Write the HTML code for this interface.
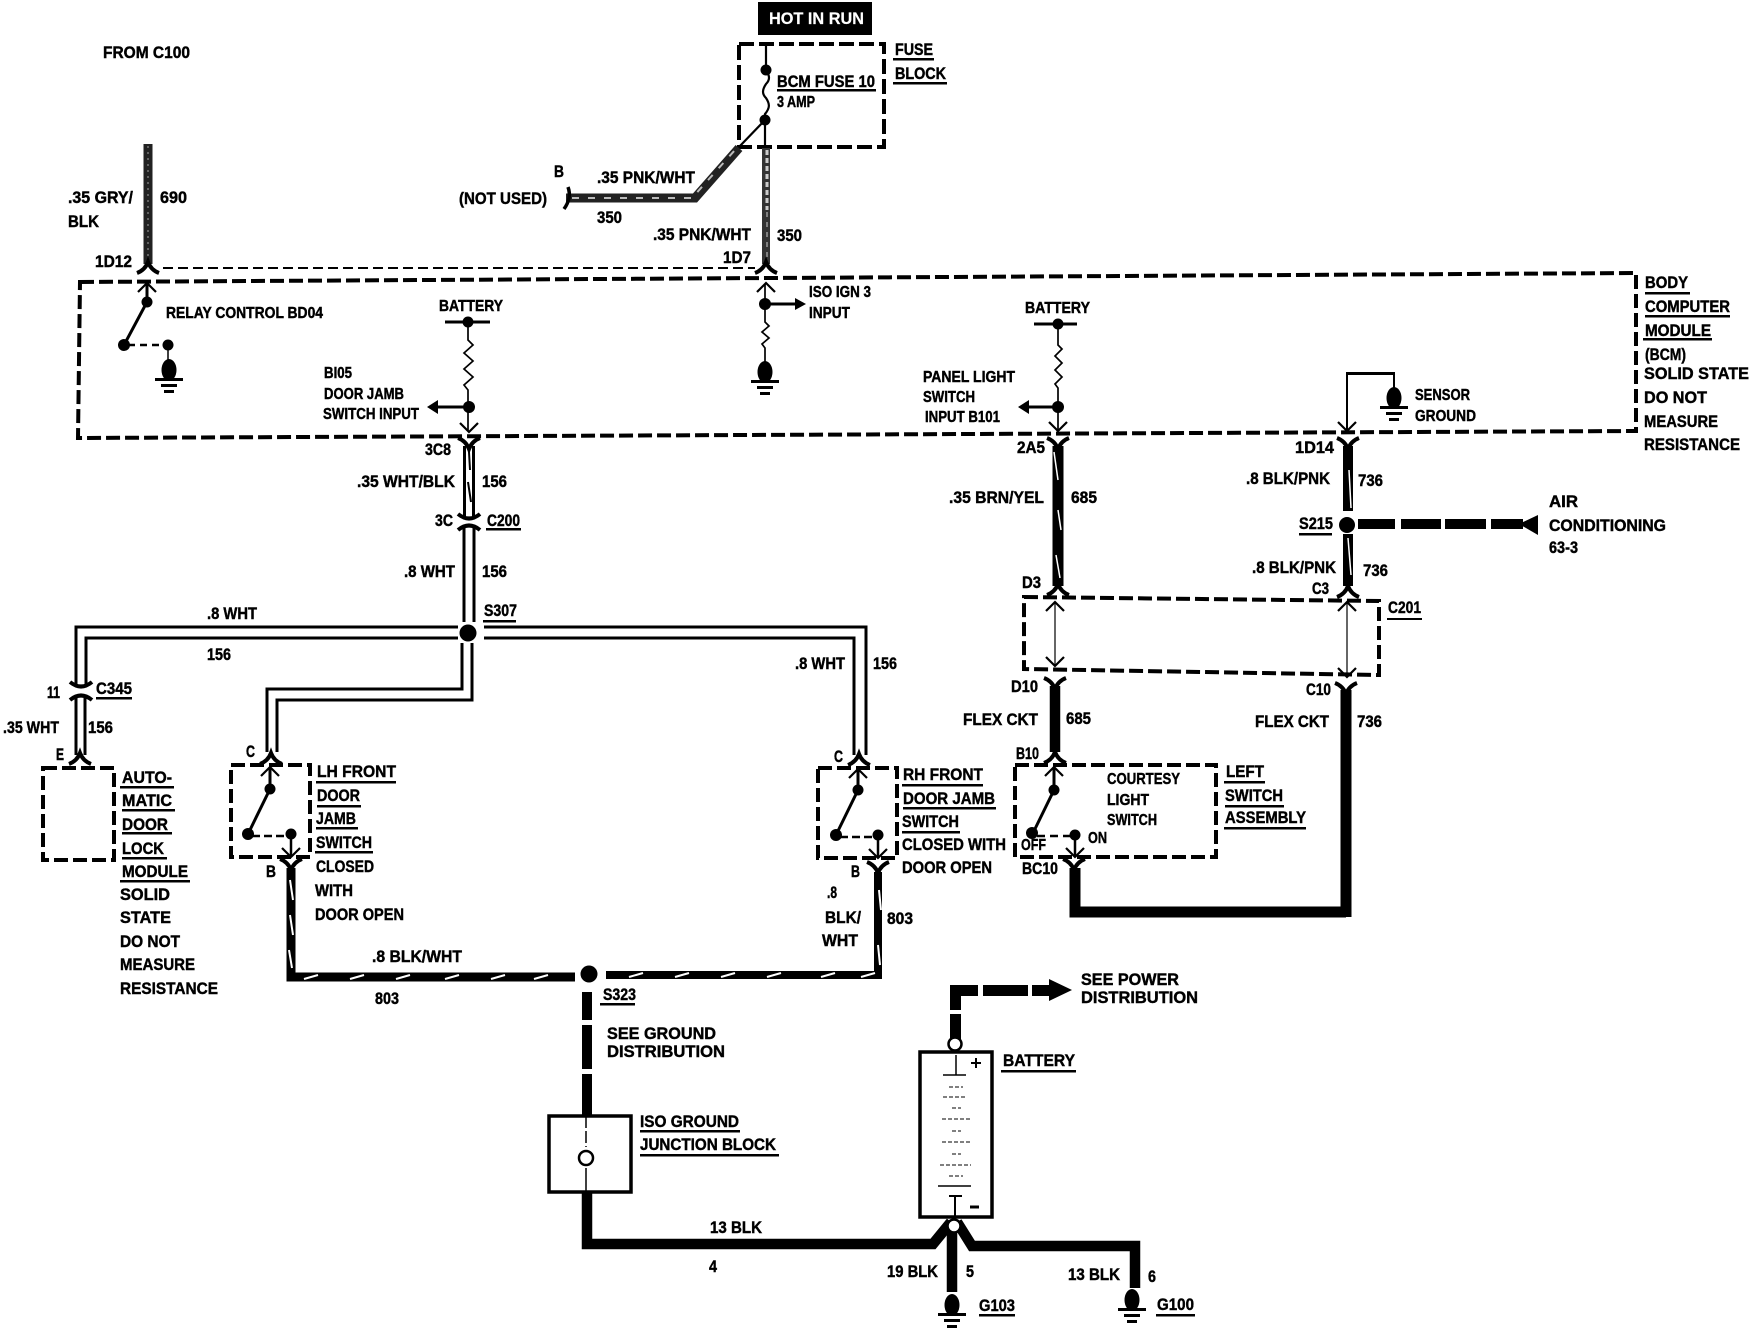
<!DOCTYPE html>
<html><head><meta charset="utf-8"><style>
html,body{margin:0;padding:0;background:#fff}
svg{display:block}
text{font-family:"Liberation Sans",sans-serif;font-weight:bold;font-size:17px;fill:#000;stroke:#000;stroke-width:.45px}
.s{font-size:16px}
</style></head><body>
<svg width="1750" height="1344" viewBox="0 0 1750 1344" xmlns="http://www.w3.org/2000/svg">
<defs>
<path id="cap" d="M-11,5 Q-3,2 0,-6 Q3,2 11,5" fill="none" stroke="#000" stroke-width="4"/>
<path id="cup" d="M-11,-5 Q-3,-2 0,6 Q3,-2 11,-5" fill="none" stroke="#000" stroke-width="4"/>
<g id="gnd"><ellipse cx="0" cy="0" rx="7.500" ry="11" fill="#000"/><rect x="-14" y="8" width="28" height="3"/><rect x="-8" y="14" width="16" height="3"/><rect x="-5" y="20" width="10" height="3"/></g>
<path id="au" d="M-9,9 L0,0 L9,9" fill="none" stroke="#000" stroke-width="2.200"/>
<path id="ad" d="M-9,-9 L0,0 L9,-9" fill="none" stroke="#000" stroke-width="2.200"/>
</defs>

<!-- Header -->
<rect x="758" y="2" width="114" height="33" fill="#000"/>
<text x="769" y="24" textLength="95" lengthAdjust="spacingAndGlyphs" style="fill:#fff;stroke:#fff;stroke-width:.2px">HOT IN RUN</text>
<text x="103" y="58" textLength="87" lengthAdjust="spacingAndGlyphs">FROM C100</text>

<!-- Fuse block -->
<rect x="739" y="44" width="145" height="103" fill="none" stroke="#000" stroke-width="4" stroke-dasharray="15 5"/>
<path d="M766,44V70 C770,76 770,80 766,84 C762,90 762,94 766,98 C770,104 770,108 765,114 V147 M765,120 L739,147" fill="none" stroke="#000" stroke-width="2.200"/>
<circle cx="766" cy="70" r="5.500"/><circle cx="765" cy="120" r="5.500"/>
<text x="777" y="87" textLength="98" lengthAdjust="spacingAndGlyphs">BCM FUSE 10</text>
<rect x="777" y="89" width="99" height="2.500"/>
<text class="s" x="777" y="107" textLength="38" lengthAdjust="spacingAndGlyphs">3 AMP</text>
<text x="895" y="55" textLength="38" lengthAdjust="spacingAndGlyphs">FUSE</text><rect x="893" y="58" width="41" height="2.500"/>
<text x="895" y="79" textLength="51" lengthAdjust="spacingAndGlyphs">BLOCK</text><rect x="893" y="82" width="54" height="2.500"/>

<!-- wire 350 to B -->
<path d="M566,198 H695 L739,148" fill="none" stroke="#222" stroke-width="9"/>
<path d="M572,198 H692 L735,150" fill="none" stroke="#bbb" stroke-width="2" stroke-dasharray="7 9"/>
<path d="M568,187 Q572,198 564,209" fill="none" stroke="#000" stroke-width="3.500"/>
<text x="554" y="177" textLength="10" lengthAdjust="spacingAndGlyphs">B</text>
<text x="459" y="204" textLength="88" lengthAdjust="spacingAndGlyphs">(NOT USED)</text>
<text x="597" y="183" textLength="98" lengthAdjust="spacingAndGlyphs">.35 PNK/WHT</text>
<text x="597" y="223" textLength="25" lengthAdjust="spacingAndGlyphs">350</text>

<!-- wire 350 vertical -->
<path d="M766,148V264" stroke="#333" stroke-width="8" fill="none"/>
<path d="M767,150V210" stroke="#ccc" stroke-width="3" stroke-dasharray="5 3" fill="none"/>
<path d="M767,212V262" stroke="#999" stroke-width="1.500" stroke-dasharray="5 5" fill="none"/>
<text x="653" y="240" textLength="98" lengthAdjust="spacingAndGlyphs">.35 PNK/WHT</text>
<text x="777" y="241" textLength="25" lengthAdjust="spacingAndGlyphs">350</text>
<text x="723" y="263" textLength="28" lengthAdjust="spacingAndGlyphs">1D7</text>
<use href="#cap" x="766" y="268"/>

<!-- wire 690 -->
<path d="M148,144V264" stroke="#222" stroke-width="9" fill="none"/>
<path d="M148,146V262" stroke="#777" stroke-width="1.500" stroke-dasharray="2 4" fill="none"/>
<text x="68" y="203" textLength="65" lengthAdjust="spacingAndGlyphs">.35 GRY/</text>
<text x="160" y="203" textLength="27" lengthAdjust="spacingAndGlyphs">690</text>
<text x="68" y="227" textLength="31" lengthAdjust="spacingAndGlyphs">BLK</text>
<text x="95" y="267" textLength="37" lengthAdjust="spacingAndGlyphs">1D12</text>
<use href="#cap" x="148" y="268"/>
<path d="M163,268H755" stroke="#000" stroke-width="2" stroke-dasharray="10 5" fill="none"/>

<!-- BCM box -->
<path d="M80,282 L1636,273 V431 L78,438 Z" fill="none" stroke="#000" stroke-width="4" stroke-dasharray="14 5"/>
<text x="1645" y="288" textLength="43" lengthAdjust="spacingAndGlyphs">BODY</text><rect x="1645" y="292" width="45" height="2.500"/>
<text x="1645" y="312" textLength="85" lengthAdjust="spacingAndGlyphs">COMPUTER</text><rect x="1645" y="315" width="85" height="2.500"/>
<text x="1645" y="336" textLength="66" lengthAdjust="spacingAndGlyphs">MODULE</text><rect x="1643" y="338" width="69" height="2.500"/>
<text x="1645" y="360" textLength="41" lengthAdjust="spacingAndGlyphs">(BCM)</text>
<text x="1644" y="379" textLength="105" lengthAdjust="spacingAndGlyphs">SOLID STATE</text>
<text x="1644" y="403" textLength="63" lengthAdjust="spacingAndGlyphs">DO NOT</text>
<text x="1644" y="427" textLength="74" lengthAdjust="spacingAndGlyphs">MEASURE</text>
<text x="1644" y="450" textLength="96" lengthAdjust="spacingAndGlyphs">RESISTANCE</text>

<!-- relay switch -->
<path d="M147,284V302 L124,345" stroke="#000" stroke-width="3" fill="none"/>
<use href="#au" x="147" y="283"/>
<circle cx="147" cy="302" r="5.500"/><circle cx="124" cy="345" r="6"/>
<path d="M128,345H164" stroke="#000" stroke-width="2.500" stroke-dasharray="7 5" fill="none"/>
<circle cx="168" cy="345" r="5.500"/>
<path d="M168,345V362" stroke="#000" stroke-width="1.500"/>
<use href="#gnd" x="169" y="370"/>
<text class="s" x="166" y="318" textLength="157" lengthAdjust="spacingAndGlyphs">RELAY CONTROL BD04</text>

<!-- battery 1 -->
<text class="s" x="439" y="311" textLength="64" lengthAdjust="spacingAndGlyphs">BATTERY</text>
<rect x="445" y="320.500" width="45" height="3"/><circle cx="468" cy="322" r="5.500"/>
<path d="M468,322V340 l5,5 l-9,8 l9,8 l-9,8 l9,8 l-9,8 l4,5 V431" fill="none" stroke="#000" stroke-width="1.700"/>
<circle cx="469" cy="407" r="6"/>
<path d="M469,407H434" stroke="#000" stroke-width="3"/><path d="M438,400L427,407L438,414Z"/>
<use href="#ad" x="469" y="432"/>
<text class="s" x="324" y="378" textLength="28" lengthAdjust="spacingAndGlyphs">BI05</text>
<text class="s" x="324" y="399" textLength="80" lengthAdjust="spacingAndGlyphs">DOOR JAMB</text>
<text class="s" x="323" y="419" textLength="96" lengthAdjust="spacingAndGlyphs">SWITCH INPUT</text>

<!-- ISO IGN -->
<path d="M765,284V322 l4,4 l-7,6 l7,6 l-7,6 l3,4 V366" fill="none" stroke="#000" stroke-width="1.700"/>
<use href="#au" x="766" y="283"/>
<circle cx="765" cy="304" r="6"/>
<path d="M765,304H798" stroke="#000" stroke-width="3"/><path d="M795,298L806,304L795,310Z"/>
<use href="#gnd" x="765" y="372"/>
<text class="s" x="809" y="297" textLength="62" lengthAdjust="spacingAndGlyphs">ISO IGN 3</text>
<text class="s" x="809" y="318" textLength="41" lengthAdjust="spacingAndGlyphs">INPUT</text>

<!-- battery 2 -->
<text class="s" x="1025" y="313" textLength="65" lengthAdjust="spacingAndGlyphs">BATTERY</text>
<rect x="1034" y="322.500" width="43" height="3"/><circle cx="1058" cy="324" r="5.500"/>
<path d="M1058,324V345 l4,4 l-7,7 l7,7 l-7,7 l7,7 l-7,7 l3,4 V431" fill="none" stroke="#000" stroke-width="1.700"/>
<circle cx="1058" cy="407" r="6"/>
<path d="M1058,407H1025" stroke="#000" stroke-width="3"/><path d="M1029,400L1018,407L1029,414Z"/>
<use href="#ad" x="1058" y="431"/>
<text class="s" x="923" y="382" textLength="92" lengthAdjust="spacingAndGlyphs">PANEL LIGHT</text>
<text class="s" x="923" y="402" textLength="52" lengthAdjust="spacingAndGlyphs">SWITCH</text>
<text class="s" x="925" y="422" textLength="75" lengthAdjust="spacingAndGlyphs">INPUT B101</text>

<!-- sensor ground -->
<path d="M1347,431V373H1394V392" fill="none" stroke="#000" stroke-width="2"/>
<rect x="1346" y="372" width="49" height="3"/>
<use href="#ad" x="1347" y="431"/>
<use href="#gnd" x="1394" y="398"/>
<text class="s" x="1415" y="400" textLength="55" lengthAdjust="spacingAndGlyphs">SENSOR</text>
<text class="s" x="1415" y="421" textLength="61" lengthAdjust="spacingAndGlyphs">GROUND</text>

<!-- 156 3C8-3C -->
<use href="#cup" x="469" y="443"/>
<path d="M464.500,446V516M473.500,446V516" stroke="#000" stroke-width="3" fill="none"/>
<path d="M469,452 L470,470 M468,482 L471,502" stroke="#000" stroke-width="2" fill="none"/>
<path d="M458,514 Q469,523 480,514 M458,530 Q469,521 480,530" fill="none" stroke="#000" stroke-width="4"/>
<text x="425" y="455" textLength="26" lengthAdjust="spacingAndGlyphs">3C8</text>
<text x="357" y="487" textLength="98" lengthAdjust="spacingAndGlyphs">.35 WHT/BLK</text>
<text x="482" y="487" textLength="25" lengthAdjust="spacingAndGlyphs">156</text>
<text x="435" y="526" textLength="18" lengthAdjust="spacingAndGlyphs">3C</text>
<text x="487" y="526" textLength="33" lengthAdjust="spacingAndGlyphs">C200</text><rect x="486" y="528" width="35" height="2.500"/>
<path d="M464,527V622M474,527V622" stroke="#000" stroke-width="3" fill="none"/>
<text x="404" y="577" textLength="51" lengthAdjust="spacingAndGlyphs">.8 WHT</text>
<text x="482" y="577" textLength="25" lengthAdjust="spacingAndGlyphs">156</text>

<!-- S307 -->
<text x="484" y="616" textLength="33" lengthAdjust="spacingAndGlyphs">S307</text><rect x="483" y="620" width="33" height="2.500"/>
<circle cx="468" cy="633" r="8.500"/>
<path d="M458,627H76V685M458,638H86V685" fill="none" stroke="#000" stroke-width="3"/>
<path d="M484,627H866V755M484,638H854V755" fill="none" stroke="#000" stroke-width="3"/>
<path d="M462,643V689H267V752M472,643V700H277V752" fill="none" stroke="#000" stroke-width="3"/>
<text x="207" y="619" textLength="50" lengthAdjust="spacingAndGlyphs">.8 WHT</text>
<text x="207" y="660" textLength="24" lengthAdjust="spacingAndGlyphs">156</text>
<text x="795" y="669" textLength="50" lengthAdjust="spacingAndGlyphs">.8 WHT</text>
<text x="873" y="669" textLength="24" lengthAdjust="spacingAndGlyphs">156</text>

<!-- C345 -->
<path d="M70,682 Q81,691 92,682 M70,700 Q81,691 92,700" fill="none" stroke="#000" stroke-width="4"/>
<text x="47" y="698" textLength="13" lengthAdjust="spacingAndGlyphs">11</text>
<text x="96" y="694" textLength="36" lengthAdjust="spacingAndGlyphs">C345</text><rect x="96" y="697" width="36" height="2.500"/>
<path d="M76,697V755M85,697V755" stroke="#000" stroke-width="3" fill="none"/>
<text x="3" y="733" textLength="56" lengthAdjust="spacingAndGlyphs">.35 WHT</text>
<text x="88" y="733" textLength="25" lengthAdjust="spacingAndGlyphs">156</text>
<text x="56" y="760" textLength="8" lengthAdjust="spacingAndGlyphs">E</text>
<use href="#cap" x="80" y="759"/>

<!-- Auto door lock -->
<rect x="43" y="768" width="71" height="92" fill="none" stroke="#000" stroke-width="4" stroke-dasharray="14 5"/>
<text x="122" y="783" textLength="50" lengthAdjust="spacingAndGlyphs">AUTO-</text><rect x="120" y="786" width="54" height="2.500"/>
<text x="122" y="806" textLength="50" lengthAdjust="spacingAndGlyphs">MATIC</text><rect x="122" y="809" width="53" height="2.500"/>
<text x="122" y="830" textLength="46" lengthAdjust="spacingAndGlyphs">DOOR</text><rect x="122" y="832" width="50" height="2.500"/>
<text x="122" y="854" textLength="42" lengthAdjust="spacingAndGlyphs">LOCK</text><rect x="122" y="857" width="45" height="2.500"/>
<text x="122" y="877" textLength="66" lengthAdjust="spacingAndGlyphs">MODULE</text><rect x="120" y="880" width="70" height="2.500"/>
<text x="120" y="900" textLength="50" lengthAdjust="spacingAndGlyphs">SOLID</text>
<text x="120" y="923" textLength="51" lengthAdjust="spacingAndGlyphs">STATE</text>
<text x="120" y="947" textLength="60" lengthAdjust="spacingAndGlyphs">DO NOT</text>
<text x="120" y="970" textLength="75" lengthAdjust="spacingAndGlyphs">MEASURE</text>
<text x="120" y="994" textLength="98" lengthAdjust="spacingAndGlyphs">RESISTANCE</text>

<!-- LH switch -->
<text x="246" y="757" textLength="9" lengthAdjust="spacingAndGlyphs">C</text>
<use href="#cap" x="271" y="759"/>
<rect x="231" y="765" width="79" height="92" fill="none" stroke="#000" stroke-width="4" stroke-dasharray="14 5"/>
<path d="M270,768V789 L248,834" stroke="#000" stroke-width="3" fill="none"/>
<use href="#au" x="270" y="767"/>
<circle cx="270" cy="789" r="5.500"/><circle cx="248" cy="834" r="6"/><circle cx="291" cy="834" r="5.500"/>
<path d="M252,836H287" stroke="#000" stroke-width="2.500" stroke-dasharray="8 4" fill="none"/>
<path d="M291,834V857" stroke="#000" stroke-width="2.500"/>
<use href="#ad" x="291" y="857"/>
<text x="266" y="877" textLength="10" lengthAdjust="spacingAndGlyphs">B</text>
<use href="#cup" x="291" y="864"/>
<text x="317" y="777" textLength="79" lengthAdjust="spacingAndGlyphs">LH FRONT</text><rect x="316" y="781" width="80" height="2.500"/>
<text x="317" y="801" textLength="43" lengthAdjust="spacingAndGlyphs">DOOR</text><rect x="317" y="805" width="44" height="2.500"/>
<text x="316" y="824" textLength="40" lengthAdjust="spacingAndGlyphs">JAMB</text><rect x="316" y="827" width="42" height="2.500"/>
<text x="316" y="848" textLength="56" lengthAdjust="spacingAndGlyphs">SWITCH</text><rect x="315" y="851" width="58" height="2.500"/>
<text x="316" y="872" textLength="58" lengthAdjust="spacingAndGlyphs">CLOSED</text>
<text x="315" y="896" textLength="38" lengthAdjust="spacingAndGlyphs">WITH</text>
<text x="315" y="920" textLength="89" lengthAdjust="spacingAndGlyphs">DOOR OPEN</text>

<!-- RH switch -->
<text x="834" y="762" textLength="9" lengthAdjust="spacingAndGlyphs">C</text>
<use href="#cap" x="859" y="760"/>
<rect x="818" y="768" width="79" height="90" fill="none" stroke="#000" stroke-width="4" stroke-dasharray="14 5"/>
<path d="M858,770V790 L836,835" stroke="#000" stroke-width="3" fill="none"/>
<use href="#au" x="858" y="769"/>
<circle cx="858" cy="790" r="5.500"/><circle cx="836" cy="835" r="6"/><circle cx="878" cy="835" r="5.500"/>
<path d="M840,837H874" stroke="#000" stroke-width="2.500" stroke-dasharray="8 4" fill="none"/>
<path d="M878,835V858" stroke="#000" stroke-width="2.500"/>
<use href="#ad" x="878" y="858"/>
<text x="851" y="877" textLength="9" lengthAdjust="spacingAndGlyphs">B</text>
<use href="#cup" x="878" y="867"/>
<text x="903" y="780" textLength="80" lengthAdjust="spacingAndGlyphs">RH FRONT</text><rect x="902" y="784" width="81" height="2.500"/>
<text x="903" y="804" textLength="92" lengthAdjust="spacingAndGlyphs">DOOR JAMB</text><rect x="903" y="807" width="93" height="2.500"/>
<text x="902" y="827" textLength="57" lengthAdjust="spacingAndGlyphs">SWITCH</text><rect x="902" y="831" width="58" height="2.500"/>
<text x="902" y="850" textLength="104" lengthAdjust="spacingAndGlyphs">CLOSED WITH</text>
<text x="902" y="873" textLength="90" lengthAdjust="spacingAndGlyphs">DOOR OPEN</text>

<!-- 803 wires -->
<path d="M291,868V977H575" fill="none" stroke="#000" stroke-width="9"/>
<path d="M606,975H878V872" fill="none" stroke="#000" stroke-width="8"/>
<g stroke="#fff" stroke-width="2" fill="none">
<path d="M304,979L318,975M350,979L364,975M396,979L410,975M445,979L459,975M491,979L505,975M534,979L548,975"/>
<path d="M629,977L643,973M675,977L689,973M721,977L735,973M767,977L781,973M821,977L835,973M861,977L875,973"/>
<path d="M290,880L293,900M290,915L293,935M289,950L292,968M879,890L881,910M878,945L880,965"/>
</g>
<circle cx="589" cy="974" r="8.500"/>
<text x="372" y="962" textLength="90" lengthAdjust="spacingAndGlyphs">.8 BLK/WHT</text>
<text x="375" y="1004" textLength="24" lengthAdjust="spacingAndGlyphs">803</text>
<text x="827" y="898" textLength="10" lengthAdjust="spacingAndGlyphs">.8</text>
<text x="825" y="923" textLength="36" lengthAdjust="spacingAndGlyphs">BLK/</text>
<text x="822" y="946" textLength="36" lengthAdjust="spacingAndGlyphs">WHT</text>
<text x="887" y="924" textLength="26" lengthAdjust="spacingAndGlyphs">803</text>
<text x="603" y="1000" textLength="33" lengthAdjust="spacingAndGlyphs">S323</text><rect x="600" y="1003" width="35" height="2.500"/>

<!-- ground dashed -->
<rect x="582" y="992" width="10" height="28"/><rect x="582" y="1025" width="10" height="44"/><rect x="582" y="1074" width="10" height="41"/>
<text x="607" y="1039" textLength="109" lengthAdjust="spacingAndGlyphs">SEE GROUND</text>
<text x="607" y="1057" textLength="118" lengthAdjust="spacingAndGlyphs">DISTRIBUTION</text>

<!-- ISO block -->
<rect x="549" y="1116" width="82" height="76" fill="#fff" stroke="#000" stroke-width="3.500"/>
<path d="M586,1116V1147" stroke="#000" stroke-width="1.500" stroke-dasharray="12 3"/>
<path d="M586,1168V1192" stroke="#000" stroke-width="1.500"/>
<circle cx="586" cy="1158" r="7" fill="#fff" stroke="#000" stroke-width="2.500"/>
<text x="640" y="1127" textLength="99" lengthAdjust="spacingAndGlyphs">ISO GROUND</text><rect x="640" y="1130" width="100" height="2.500"/>
<text x="640" y="1150" textLength="136" lengthAdjust="spacingAndGlyphs">JUNCTION BLOCK</text><rect x="640" y="1154" width="139" height="2.500"/>

<!-- 13 BLK -->
<path d="M587,1193V1244H933L951,1222" fill="none" stroke="#000" stroke-width="10.500"/>
<path d="M957,1222L972,1246H1135V1288" fill="none" stroke="#000" stroke-width="10.500"/>
<path d="M952,1232V1292" stroke="#000" stroke-width="10.500" fill="none"/>
<text x="710" y="1233" textLength="52" lengthAdjust="spacingAndGlyphs">13 BLK</text>
<text x="709" y="1272" textLength="8" lengthAdjust="spacingAndGlyphs">4</text>
<text x="887" y="1277" textLength="51" lengthAdjust="spacingAndGlyphs">19 BLK</text>
<text x="966" y="1277" textLength="8" lengthAdjust="spacingAndGlyphs">5</text>
<text x="1068" y="1280" textLength="52" lengthAdjust="spacingAndGlyphs">13 BLK</text>
<text x="1148" y="1282" textLength="8" lengthAdjust="spacingAndGlyphs">6</text>
<use href="#gnd" x="952" y="1305"/>
<use href="#gnd" x="1132" y="1300"/>
<text x="979" y="1311" textLength="36" lengthAdjust="spacingAndGlyphs">G103</text><rect x="979" y="1314" width="36" height="2.500"/>
<text x="1157" y="1310" textLength="37" lengthAdjust="spacingAndGlyphs">G100</text><rect x="1156" y="1314" width="39" height="2.500"/>

<!-- Battery -->
<rect x="950" y="1014" width="11" height="26"/>
<rect x="950" y="985" width="11" height="25"/><rect x="950" y="985" width="28" height="11"/>
<rect x="983" y="985" width="45" height="11"/><rect x="1032" y="985" width="18" height="11"/>
<path d="M1049,979L1072,990L1049,1001Z"/>
<text x="1081" y="985" textLength="98" lengthAdjust="spacingAndGlyphs">SEE POWER</text>
<text x="1081" y="1003" textLength="117" lengthAdjust="spacingAndGlyphs">DISTRIBUTION</text>
<circle cx="955" cy="1044" r="6.500" fill="#fff" stroke="#000" stroke-width="2.500"/>
<rect x="920" y="1052" width="72" height="165" fill="#fff" stroke="#000" stroke-width="3.500"/>
<circle cx="954" cy="1226" r="6.500" fill="#fff" stroke="#000" stroke-width="2.500"/>
<text x="1003" y="1066" textLength="72" lengthAdjust="spacingAndGlyphs">BATTERY</text><rect x="1001" y="1070" width="75" height="2.500"/>
<g stroke="#000" stroke-width="1" fill="none">
<path d="M956,1055V1075M943,1075H966" stroke-width="1.500"/>
<path d="M949,1087H963M943,1097H966M952,1108H961M942,1119H972M952,1131H961M942,1142H971M952,1154H961M940,1165H971M949,1176H963" stroke-dasharray="4 2"/>
<path d="M938,1186H971" stroke-width="1.500"/>
<path d="M949,1196H962M955,1196V1220" stroke-width="2"/>
<path d="M971,1063H981M976,1058V1068" stroke-width="2"/>
<path d="M970,1207H979" stroke-width="3"/>
</g>

<!-- 685 / 736 top -->
<use href="#cup" x="1058" y="443"/>
<path d="M1058,446V586" stroke="#000" stroke-width="11" fill="none"/>
<path d="M1054,452L1058,480M1058,510L1061,530M1056,555L1060,578" stroke="#fff" stroke-width="1.500" fill="none"/>
<use href="#cap" x="1058" y="590"/>
<text x="1017" y="453" textLength="28" lengthAdjust="spacingAndGlyphs">2A5</text>
<text x="949" y="503" textLength="95" lengthAdjust="spacingAndGlyphs">.35 BRN/YEL</text>
<text x="1071" y="503" textLength="26" lengthAdjust="spacingAndGlyphs">685</text>
<use href="#cup" x="1348" y="443"/>
<path d="M1348,446V511M1348,534V586" stroke="#000" stroke-width="10" fill="none"/>
<path d="M1349,470L1351,508M1348,538L1351,575" stroke="#fff" stroke-width="1.500" fill="none"/>
<use href="#cap" x="1348" y="592"/>
<text x="1295" y="453" textLength="39" lengthAdjust="spacingAndGlyphs">1D14</text>
<text x="1246" y="484" textLength="84" lengthAdjust="spacingAndGlyphs">.8 BLK/PNK</text>
<text x="1358" y="486" textLength="25" lengthAdjust="spacingAndGlyphs">736</text>
<circle cx="1347" cy="525" r="8"/>
<text x="1299" y="529" textLength="34" lengthAdjust="spacingAndGlyphs">S215</text><rect x="1299" y="533" width="33" height="2.500"/>
<rect x="1358" y="519" width="37" height="10"/><rect x="1401" y="519" width="40" height="10"/><rect x="1445" y="519" width="41" height="10"/><rect x="1491" y="519" width="32" height="10"/>
<path d="M1519,524L1538,515V535Z"/>
<text x="1549" y="507" textLength="29" lengthAdjust="spacingAndGlyphs">AIR</text>
<text x="1549" y="531" textLength="117" lengthAdjust="spacingAndGlyphs">CONDITIONING</text>
<text x="1549" y="553" textLength="29" lengthAdjust="spacingAndGlyphs">63-3</text>
<text x="1252" y="573" textLength="84" lengthAdjust="spacingAndGlyphs">.8 BLK/PNK</text>
<text x="1363" y="576" textLength="25" lengthAdjust="spacingAndGlyphs">736</text>
<text x="1022" y="588" textLength="19" lengthAdjust="spacingAndGlyphs">D3</text>
<text x="1312" y="594" textLength="17" lengthAdjust="spacingAndGlyphs">C3</text>

<!-- C201 -->
<path d="M1024,597 L1379,601 V675 L1024,669 Z" fill="none" stroke="#000" stroke-width="4" stroke-dasharray="14 5"/>
<path d="M1055,602V666M1347,602V677" stroke="#000" stroke-width="1.200" fill="none"/>
<use href="#au" x="1055" y="602"/><use href="#ad" x="1055" y="666"/>
<use href="#au" x="1347" y="602"/><use href="#ad" x="1347" y="677"/>
<text x="1388" y="613" textLength="33" lengthAdjust="spacingAndGlyphs">C201</text><rect x="1387" y="618" width="35" height="2"/>

<!-- lower 685 / 736 -->
<use href="#cup" x="1055" y="683"/>
<path d="M1055,686V752" stroke="#000" stroke-width="10.500" fill="none"/>
<use href="#cap" x="1055" y="758"/>
<use href="#cup" x="1346" y="688"/>
<path d="M1346,690V917" stroke="#000" stroke-width="11" fill="none"/>
<text x="1011" y="692" textLength="27" lengthAdjust="spacingAndGlyphs">D10</text>
<text x="1306" y="695" textLength="25" lengthAdjust="spacingAndGlyphs">C10</text>
<text x="963" y="725" textLength="75" lengthAdjust="spacingAndGlyphs">FLEX CKT</text>
<text x="1066" y="724" textLength="25" lengthAdjust="spacingAndGlyphs">685</text>
<text x="1255" y="727" textLength="74" lengthAdjust="spacingAndGlyphs">FLEX CKT</text>
<text x="1357" y="727" textLength="25" lengthAdjust="spacingAndGlyphs">736</text>
<text x="1016" y="759" textLength="23" lengthAdjust="spacingAndGlyphs">B10</text>

<!-- Left switch assembly -->
<rect x="1015" y="765" width="201" height="92" fill="none" stroke="#000" stroke-width="4" stroke-dasharray="14 5"/>
<path d="M1054,768V790 L1033,833" stroke="#000" stroke-width="3" fill="none"/>
<use href="#au" x="1054" y="767"/>
<circle cx="1054" cy="790" r="5.500"/><circle cx="1032" cy="833" r="6"/><circle cx="1075" cy="835" r="5.500"/>
<path d="M1037,836H1071" stroke="#000" stroke-width="2.500" stroke-dasharray="8 5" fill="none"/>
<path d="M1075,835V857" stroke="#000" stroke-width="2.500"/>
<use href="#ad" x="1075" y="857"/>
<text class="s" x="1107" y="784" textLength="73" lengthAdjust="spacingAndGlyphs">COURTESY</text>
<text class="s" x="1107" y="805" textLength="42" lengthAdjust="spacingAndGlyphs">LIGHT</text>
<text class="s" x="1107" y="825" textLength="50" lengthAdjust="spacingAndGlyphs">SWITCH</text>
<text class="s" x="1088" y="843" textLength="19" lengthAdjust="spacingAndGlyphs">ON</text>
<text class="s" x="1021" y="850" textLength="25" lengthAdjust="spacingAndGlyphs">OFF</text>
<text x="1226" y="777" textLength="38" lengthAdjust="spacingAndGlyphs">LEFT</text><rect x="1224" y="781" width="41" height="2.500"/>
<text x="1225" y="801" textLength="58" lengthAdjust="spacingAndGlyphs">SWITCH</text><rect x="1225" y="805" width="59" height="2.500"/>
<text x="1225" y="823" textLength="81" lengthAdjust="spacingAndGlyphs">ASSEMBLY</text><rect x="1224" y="827" width="82" height="2.500"/>
<text x="1022" y="874" textLength="36" lengthAdjust="spacingAndGlyphs">BC10</text>
<use href="#cup" x="1074" y="864"/>
<path d="M1075,868V912H1346" fill="none" stroke="#000" stroke-width="11"/>
</svg>
</body></html>
